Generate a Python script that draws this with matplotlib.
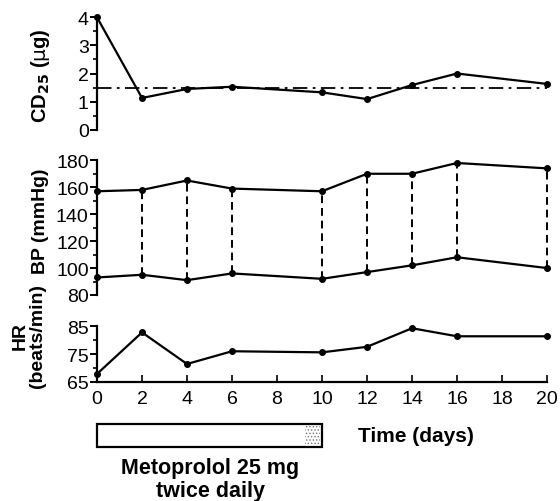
import matplotlib
matplotlib.use('Agg')
from matplotlib import pyplot as plt
from matplotlib.patches import Rectangle
from matplotlib.ticker import MultipleLocator, FixedLocator

plt.rcParams['font.family'] = ['Liberation Sans', 'DejaVu Sans']
plt.rcParams['hatch.linewidth'] = 0.6

# Days of measurement
days = [0, 2, 4, 6, 10, 12, 14, 16, 20]
# CD25 values (ug) and reference level
cd25 = [4.0, 1.13, 1.45, 1.53, 1.33, 1.09, 1.59, 2.0, 1.63]
cd25_ref = 1.5
# Blood pressure (mmHg)
bp_sys = [157, 158, 165, 159, 157, 170, 170, 178, 174]
bp_dia = [93, 95, 91, 96, 92, 97, 102, 108, 100]
# Heart rate (beats/min)
hr = [67.8, 82.8, 71.4, 76, 75.6, 77.6, 84.3, 81.4, 81.4]
hr_ticks = [65, 75, 85]
# Treatment period
treat_start, treat_end = 0, 10
x_ticks = list(range(0, 21, 2))

fig = plt.figure(figsize=(5.6, 5.02), dpi=100)
L, W = 0.1732, 0.8036
ax1 = fig.add_axes([L, 0.7396, W, 0.2239])
ax2 = fig.add_axes([L, 0.4104, W, 0.2683])
ax3 = fig.add_axes([L, 0.2376, W, 0.1104])

line_kw = dict(color='black', lw=1.6, marker='o', ms=4, clip_on=False)

def style_y(ax):
    for s in ['top', 'right', 'bottom']:
        ax.spines[s].set_visible(False)
    ax.spines['left'].set_linewidth(1.6)
    ax.set_xlim(0, 20)
    ax.tick_params(axis='y', which='major', direction='out', length=5, width=1.4, labelsize=14, pad=1)
    ax.tick_params(axis='y', which='minor', direction='out', length=3, width=1.2)

# CD25 panel
ax1.plot(days, cd25, **line_kw)
ax1.plot([0, 20], [cd25_ref, cd25_ref], color='black', lw=1.3, ls=(0, (8, 3, 1.5, 3)), clip_on=False)
ax1.set_ylim(0, 4)
ax1.yaxis.set_major_locator(MultipleLocator(1))
ax1.yaxis.set_minor_locator(MultipleLocator(0.5))
style_y(ax1)
ax1.set_xticks([])

# BP panel
ax2.plot(days, bp_sys, **line_kw)
ax2.plot(days, bp_dia, **line_kw)
for d, s, di in zip(days[1:], bp_sys[1:], bp_dia[1:]):
    ax2.plot([d, d], [di, s], color='black', lw=1.4, ls=(0, (4, 2.5)), clip_on=False)
ax2.set_ylim(80, 180)
ax2.yaxis.set_major_locator(MultipleLocator(20))
ax2.yaxis.set_minor_locator(MultipleLocator(10))
style_y(ax2)
ax2.set_xticks([])

# HR panel
ax3.plot(days, hr, **line_kw)
ax3.set_ylim(65, 85)
ax3.yaxis.set_major_locator(FixedLocator(hr_ticks))
ax3.yaxis.set_minor_locator(FixedLocator([70, 80]))
style_y(ax3)
ax3.spines['bottom'].set_visible(True)
ax3.spines['bottom'].set_linewidth(1.6)
ax3.set_xticks(x_ticks)
ax3.tick_params(axis='x', direction='in', length=5, width=1.2, labelsize=14, pad=6)

# Y labels
fig.text(0.072, 0.85, r'CD$_{\mathbf{25}}$ ($\mathrm{\mu}$g)', rotation=90, ha='center', va='center',
         fontsize=14.5, fontweight='bold')
fig.text(0.072, 0.56, 'BP (mmHg)', rotation=90, ha='center', va='center', fontsize=14, fontweight='bold')
fig.text(0.052, 0.33, 'HR\n(beats/min)', rotation=90, ha='center', va='center', fontsize=14,
         fontweight='bold', linespacing=1.0)

# Treatment bar
axb = fig.add_axes([L, 0.1076, W, 0.0458])
axb.set_xlim(0, 20)
axb.set_ylim(0, 1)
axb.axis('off')
axb.add_patch(Rectangle((treat_start, 0.02), treat_end - treat_start, 0.96, facecolor='white',
                        edgecolor='black', lw=1.6, clip_on=False))
axb.add_patch(Rectangle((treat_end - 0.75, 0.08), 0.68, 0.84, facecolor='white', edgecolor='0.45',
                        hatch='.....', lw=0, clip_on=False))
axb.text(11.6, 0.5, 'Time (days)', ha='left', va='center', fontsize=15, fontweight='bold')

fig.text(0.375, 0.067, 'Metoprolol 25 mg', ha='center', va='center', fontsize=15.5, fontweight='bold')
fig.text(0.375, 0.02, 'twice daily', ha='center', va='center', fontsize=15.5, fontweight='bold')

fig.savefig('out.png', dpi=100)
